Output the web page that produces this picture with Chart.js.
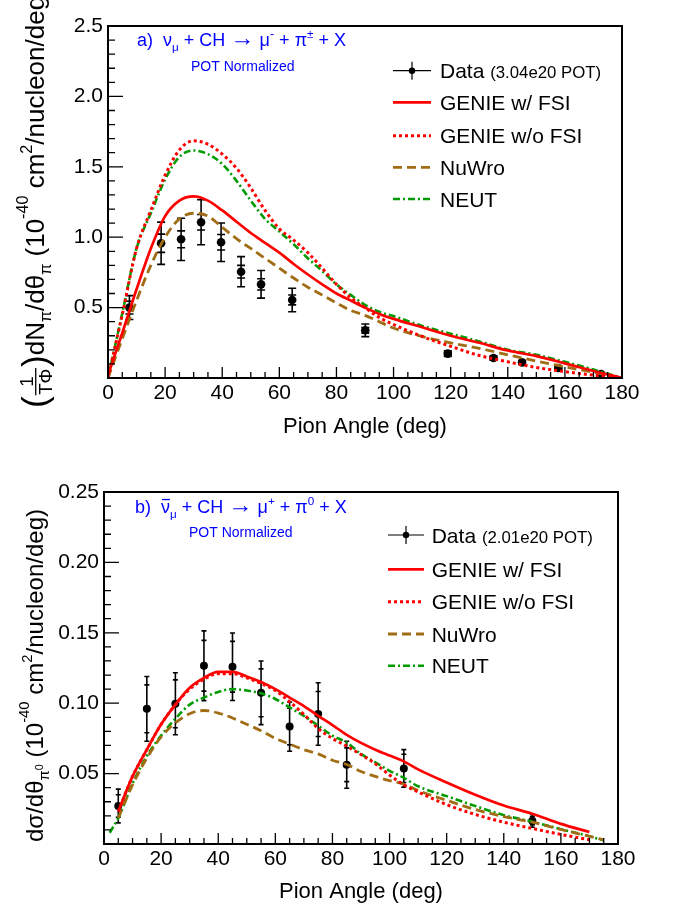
<!DOCTYPE html>
<html>
<head>
<meta charset="utf-8">
<script src="https://cdn.jsdelivr.net/npm/chart.js@4.4.0/dist/chart.umd.min.js"></script>
<style>
  body { margin: 0; background: #fff; }
  #wrap { position: relative; width: 673px; height: 911px; }
  canvas { position: absolute; left: 0; }
</style>
</head>
<body>
<div id="wrap">
  <canvas id="chartA" width="673" height="455" style="top:0px"></canvas>
  <canvas id="chartB" width="673" height="456" style="top:455px"></canvas>
</div>
<script>
const FONT = "'Liberation Sans', Arial, Helvetica, sans-serif";

// ---- panel a) nu_mu + CH -> mu- + pi+- + X ----
const anglesA = [0, 5, 10, 15, 20, 25, 30, 35, 40, 45, 50, 55, 60, 65, 70, 75, 80, 85, 90, 95, 100, 110, 120, 130, 140, 150, 160, 170, 180];
const genieFsiA = [0.02, 0.32, 0.63, 0.92, 1.15, 1.26, 1.29, 1.26, 1.19, 1.11, 1.03, 0.96, 0.89, 0.81, 0.735, 0.665, 0.60, 0.55, 0.50, 0.455, 0.42, 0.36, 0.30, 0.25, 0.195, 0.155, 0.104, 0.05, 0.0];
const genieNoFsiA = [0, 0.45, 0.92, 1.19, 1.44, 1.62, 1.685, 1.66, 1.59, 1.49, 1.35, 1.19, 1.06, 0.98, 0.89, 0.78, 0.665, 0.57, 0.50, 0.43, 0.38, 0.295, 0.225, 0.16, 0.115, 0.075, 0.045, 0.02, 0];
const nuwroA = [0, 0.28, 0.55, 0.80, 1.00, 1.13, 1.17, 1.15, 1.07, 0.99, 0.92, 0.85, 0.78, 0.71, 0.645, 0.59, 0.533, 0.48, 0.445, 0.40, 0.355, 0.295, 0.25, 0.21, 0.165, 0.12, 0.08, 0.04, 0];
const neutA = [0, 0.46, 0.92, 1.17, 1.41, 1.57, 1.616, 1.59, 1.52, 1.40, 1.26, 1.13, 1.04, 0.95, 0.85, 0.76, 0.665, 0.59, 0.52, 0.47, 0.44, 0.37, 0.315, 0.26, 0.20, 0.165, 0.115, 0.06, 0];
const dataAngleA = [7.5, 18.6, 25.6, 32.6, 39.6, 46.6, 53.6, 64.5, 90.1, 119, 135, 145, 157.7, 172.7];
const dataA = [0.50, 0.957, 0.985, 1.106, 0.964, 0.755, 0.665, 0.554, 0.339, 0.173, 0.142, 0.111, 0.071, 0.028];
const totErrA = [0.085, 0.15, 0.15, 0.16, 0.137, 0.107, 0.098, 0.083, 0.045, 0.02, 0.015, 0.012, 0.01, 0.008];
const statErrA = [0.045, 0.065, 0.06, 0.055, 0.055, 0.045, 0.04, 0.035, 0.02, 0.01, 0.008, 0.006, 0.005, 0.004];

// ---- panel b) nubar_mu + CH -> mu+ + pi0 + X ----
const anglesB = [2, 5, 10, 15, 20, 25, 30, 35, 40, 45, 50, 55, 60, 65, 70, 75, 80, 85, 90, 95, 100, 105, 110, 120, 130, 140, 150, 160, 170, 175];
const genieFsiB = [null, 0.0232, 0.048, 0.067, 0.085, 0.099, 0.111, 0.118, 0.1222, 0.1222, 0.119, 0.115, 0.110, 0.104, 0.098, 0.091, 0.0845, 0.0775, 0.0718, 0.067, 0.0628, 0.0587, 0.053, 0.0437, 0.035, 0.0273, 0.0215, 0.0143, 0.0085, null];
const genieNoFsiB = [null, 0.0232, 0.048, 0.067, 0.085, 0.099, 0.110, 0.117, 0.121, 0.121, 0.118, 0.114, 0.109, 0.101, 0.092, 0.082, 0.075, 0.0695, 0.0635, 0.057, 0.049, 0.042, 0.037, 0.028, 0.021, 0.0155, 0.011, 0.0068, 0.003, null];
const nuwroB = [null, 0.0185, 0.042, 0.061, 0.076, 0.086, 0.0925, 0.0948, 0.093, 0.0895, 0.085, 0.0805, 0.075, 0.071, 0.067, 0.064, 0.0595, 0.0565, 0.0515, 0.048, 0.045, 0.0425, 0.038, 0.031, 0.0245, 0.0195, 0.0155, 0.0103, 0.0055, 0.003];
const neutB = [0.008, 0.0185, 0.043, 0.0625, 0.077, 0.089, 0.099, 0.104, 0.108, 0.110, 0.109, 0.107, 0.103, 0.097, 0.091, 0.084, 0.077, 0.072, 0.064, 0.058, 0.052, 0.047, 0.041, 0.034, 0.027, 0.0205, 0.0158, 0.0105, 0.0055, 0.0025];
const dataAngleB = [5, 15, 25, 35, 45, 55, 65, 75, 85, 105, 150];
const dataB = [0.027, 0.096, 0.0996, 0.1266, 0.1259, 0.1074, 0.0834, 0.0923, 0.0563, 0.0537, 0.0166];
const totErrB = [0.012, 0.023, 0.022, 0.0248, 0.024, 0.0226, 0.0175, 0.0222, 0.0167, 0.0133, 0.0047];
const statErrB = [0.008, 0.017, 0.017, 0.018, 0.018, 0.017, 0.013, 0.016, 0.012, 0.01, 0.003];

const xTicks = [0, 20, 40, 60, 80, 100, 120, 140, 160, 180];

// draws a list of text pieces (sub/superscripts, fraction) starting at 0,0; returns width
function richText(ctx, parts, size, draw) {
  let x = 0;
  parts.forEach(p => {
    if (p.frac) {
      const fs = size * 0.72;
      ctx.font = fs + 'px ' + FONT;
      const wn = ctx.measureText(p.frac[0]).width, wd = ctx.measureText(p.frac[1]).width;
      const w = Math.max(wn, wd) + 3;
      if (draw) {
        const bar = -0.32 * size;
        ctx.fillText(p.frac[0], x + (w - wn) / 2, bar - 0.12 * size);
        ctx.fillText(p.frac[1], x + (w - wd) / 2, bar + 0.1 * size + 0.72 * fs);
        ctx.fillRect(x + 1, bar - 0.6, w - 2, 1.3);
      }
      x += w;
      return;
    }
    const fs = size * (p.s || 1);
    ctx.font = fs + 'px ' + FONT;
    const w = ctx.measureText(p.t).width;
    if (draw) {
      ctx.fillText(p.t, x, -(p.dy || 0) * size);
      if (p.bar) ctx.fillRect(x + 1, -0.8 * size, w - 1, 1.3);
    }
    x += w;
  });
  return x;
}

function rootPlugin(p) {
  return {
    id: 'rootStyle',
    beforeDatasetsDraw(chart) {
      // error bars of the data points: outer = total, inner caps = statistical
      const ctx = chart.ctx, xs = chart.scales.x, ys = chart.scales.y;
      ctx.save();
      ctx.strokeStyle = '#000';
      ctx.lineWidth = 1.6;
      p.dataAngle.forEach((a, i) => {
        const px = xs.getPixelForValue(a);
        const v = p.data[i];
        const yT = ys.getPixelForValue(v + p.totErr[i]), yB = ys.getPixelForValue(v - p.totErr[i]);
        ctx.beginPath();
        ctx.moveTo(px, yT); ctx.lineTo(px, yB);
        [v + p.totErr[i], v - p.totErr[i], v + p.statErr[i], v - p.statErr[i]].forEach(c => {
          const py = ys.getPixelForValue(c);
          ctx.moveTo(px - p.capW, py); ctx.lineTo(px + p.capW, py);
        });
        ctx.stroke();
      });
      ctx.restore();
    },
    afterDraw(chart) {
      const ctx = chart.ctx, a = chart.chartArea, xs = chart.scales.x, ys = chart.scales.y;
      ctx.save();
      // inward ticks
      ctx.strokeStyle = '#000';
      ctx.lineWidth = 1.3;
      ctx.beginPath();
      for (let v = 0; v <= 180; v += 5) {
        const px = xs.getPixelForValue(v);
        const len = v % 20 === 0 ? 11 : 6;
        ctx.moveTo(px, a.bottom); ctx.lineTo(px, a.bottom - len);
      }
      const nMinor = Math.round(p.yMax / p.yMinor);
      for (let k = 0; k <= nMinor; k++) {
        const py = ys.getPixelForValue(k * p.yMinor);
        const len = k % 5 === 0 ? 15 : 7;
        ctx.moveTo(a.left, py); ctx.lineTo(a.left + len, py);
      }
      ctx.stroke();
      // frame
      ctx.lineWidth = 2;
      ctx.strokeRect(a.left, a.top, a.right - a.left, a.bottom - a.top);

      // legend
      ctx.fillStyle = '#000';
      ctx.textBaseline = 'alphabetic';
      ctx.textAlign = 'left';
      const L = p.legend;
      const dsets = chart.data.datasets;
      const dataSet = dsets[dsets.length - 1];
      const entries = [dataSet].concat(dsets.slice(0, dsets.length - 1));
      entries.forEach((ds, i) => {
        const cy = L.rows[i];
        ctx.save();
        if (ds === dataSet) {
          ctx.strokeStyle = '#000'; ctx.lineWidth = 1.2; ctx.setLineDash([]);
          const mx = (L.x0 + L.x1) / 2;
          ctx.beginPath();
          ctx.moveTo(L.x0, cy); ctx.lineTo(L.x1, cy);
          ctx.moveTo(mx, cy - 9); ctx.lineTo(mx, cy + 9);
          ctx.stroke();
          ctx.beginPath(); ctx.arc(mx, cy, 3.2, 0, Math.PI * 2); ctx.fill();
        } else {
          ctx.strokeStyle = ds.borderColor; ctx.lineWidth = ds.borderWidth;
          ctx.setLineDash(ds.borderDash || []);
          ctx.beginPath(); ctx.moveTo(L.x0, cy); ctx.lineTo(L.x1, cy); ctx.stroke();
        }
        ctx.restore();
        ctx.save();
        ctx.translate(L.tx, cy + 7.5);
        const parts = ds === dataSet ? [{ t: 'Data ' }, { t: p.pot, s: 0.8 }] : [{ t: ds.label }];
        richText(ctx, parts, 21, true);
        ctx.restore();
      });

      // blue annotation
      ctx.fillStyle = 'rgb(0,0,255)';
      ctx.save();
      ctx.translate(p.note.x, p.note.y);
      richText(ctx, p.note.parts, 18, true);
      ctx.restore();
      ctx.font = '14px ' + FONT;
      ctx.fillText('POT Normalized', p.note.px, p.note.py);

      // axis titles
      ctx.fillStyle = '#000';
      ctx.font = '22px ' + FONT;
      ctx.textAlign = 'center';
      ctx.fillText('Pion Angle (deg)', (a.left + a.right) / 2, p.xTitleY);
      ctx.textAlign = 'left';
      ctx.save();
      ctx.translate(p.yTitle.x, p.yTitle.y);
      ctx.rotate(-Math.PI / 2);
      richText(ctx, p.yTitle.parts, p.yTitle.size, true);
      ctx.restore();
      ctx.restore();
    }
  };
}

function curve(label, xs, ys, color, dash, width) {
  return {
    type: 'line',
    label: label,
    data: xs.map((x, i) => ({ x: x, y: ys[i] })),
    borderColor: color,
    borderDash: dash,
    borderWidth: width,
    pointRadius: 0,
    fill: false,
    showLine: true,
    cubicInterpolationMode: 'monotone'
  };
}

function makeChart(id, p) {
  return new Chart(document.getElementById(id), {
    type: 'scatter',
    data: {
      datasets: [
        curve('GENIE w/ FSI', p.angles, p.genieFsi, 'rgb(255,0,0)', [], 2.7),
        curve('GENIE w/o FSI', p.angles, p.genieNoFsi, 'rgb(255,0,0)', [3, 3], 3),
        curve('NuWro', p.angles, p.nuwro, 'rgb(160,108,20)', [9, 5], 2.8),
        curve('NEUT', p.angles, p.neut, 'rgb(0,155,0)', [7, 3, 2, 3], 2.6),
        {
          label: 'Data',
          data: p.dataAngle.map((x, i) => ({ x: x, y: p.data[i] })),
          pointRadius: p.r,
          pointBackgroundColor: '#000',
          pointBorderColor: '#000',
          pointBorderWidth: 0
        }
      ]
    },
    options: {
      responsive: false,
      animation: false,
      events: [],
      layout: { padding: { left: 0, top: p.padTop, right: p.padRight, bottom: 0 } },
      plugins: { legend: { display: false }, tooltip: { enabled: false } },
      scales: {
        x: {
          type: 'linear', min: 0, max: 180,
          grid: { display: false, drawTicks: false },
          border: { display: false },
          afterBuildTicks: s => { s.ticks = xTicks.map(v => ({ value: v })); },
          ticks: { autoSkip: false, maxRotation: 0, padding: 3, color: '#000', font: { family: FONT, size: 21 } },
          afterFit: s => { s.height = p.xHeight; }
        },
        y: {
          type: 'linear', min: 0, max: p.yMax,
          grid: { display: false, drawTicks: false },
          border: { display: false },
          ticks: {
            stepSize: p.yStep, padding: 5, color: '#000', font: { family: FONT, size: 21 },
            callback: v => v < 1e-9 ? '' : v.toFixed(p.dec)
          },
          afterFit: s => { s.width = p.yWidth; }
        }
      }
    },
    plugins: [rootPlugin(p)]
  });
}

makeChart('chartA', {
  angles: anglesA, genieFsi: genieFsiA, genieNoFsi: genieNoFsiA, nuwro: nuwroA, neut: neutA,
  dataAngle: dataAngleA, data: dataA, totErr: totErrA, statErr: statErrA,
  r: 4.3, capW: 4,
  yMax: 2.5, yStep: 0.5, yMinor: 0.1, dec: 1,
  padTop: 26, padRight: 51, xHeight: 77, yWidth: 108,
  pot: '(3.04e20 POT)',
  legend: { rows: [70.7, 102.3, 135.7, 167.3, 199], x0: 393, x1: 431, tx: 440 },
  note: {
    x: 137, y: 46, px: 191, py: 70.5,
    parts: [{ t: 'a)  ν' }, { t: 'μ', s: 0.65, dy: -0.25 }, { t: ' + CH ' }, { t: '→', s: 1.35, dy: 0.02 }, { t: ' μ' }, { t: '-', s: 0.7, dy: 0.45 },
            { t: ' + π' }, { t: '±', s: 0.65, dy: 0.45 }, { t: ' + X' }]
  },
  xTitleY: 433,
  yTitle: {
    x: 44, y: 408, size: 26,
    parts: [{ t: '(', s: 1.35, dy: -0.12 }, { frac: ['1', 'TΦ'] }, { t: ')', s: 1.35, dy: -0.12 },
            { t: 'dN' }, { t: 'π', s: 0.62, dy: -0.25 }, { t: '/d' }, { t: 'θ' }, { t: 'π', s: 0.62, dy: -0.25 },
            { t: ' (10' }, { t: '-40', s: 0.62, dy: 0.6 }, { t: ' cm' }, { t: '2', s: 0.62, dy: 0.45 },
            { t: '/nucleon/deg)' }]
  }
});

makeChart('chartB', {
  angles: anglesB, genieFsi: genieFsiB, genieNoFsi: genieNoFsiB, nuwro: nuwroB, neut: neutB,
  dataAngle: dataAngleB, data: dataB, totErr: totErrB, statErr: statErrB,
  r: 4, capW: 2.5,
  yMax: 0.25, yStep: 0.05, yMinor: 0.01, dec: 2,
  padTop: 37, padRight: 55, xHeight: 67, yWidth: 104,
  pot: '(2.01e20 POT)',
  legend: { rows: [80, 114.3, 146.7, 179, 210.7], x0: 388, x1: 424, tx: 431.7 },
  note: {
    x: 135, y: 58.3, px: 189, py: 81.7,
    parts: [{ t: 'b)  ' }, { t: 'ν', bar: true }, { t: 'μ', s: 0.65, dy: -0.25 }, { t: ' + CH ' }, { t: '→', s: 1.35, dy: 0.02 }, { t: ' μ' }, { t: '+', s: 0.65, dy: 0.45 },
            { t: ' + π' }, { t: '0', s: 0.65, dy: 0.45 }, { t: ' + X' }]
  },
  xTitleY: 443,
  yTitle: {
    x: 43, y: 387, size: 24,
    parts: [{ t: 'dσ/dθ' }, { t: 'π', s: 0.62, dy: -0.25 }, { t: '0', s: 0.45, dy: 0.0 },
            { t: ' (10' }, { t: '-40', s: 0.62, dy: 0.6 }, { t: ' cm' }, { t: '2', s: 0.62, dy: 0.45 },
            { t: '/nucleon/deg)' }]
  }
});
</script>
</body>
</html>
